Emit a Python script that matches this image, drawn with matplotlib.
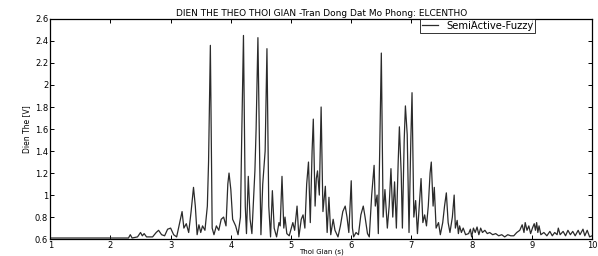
import matplotlib

matplotlib.use("Agg")
import matplotlib.pyplot as plt

# time (s) and voltage (V)
t = [1.0, 2.3, 2.33, 2.36, 2.45, 2.5, 2.53, 2.56, 2.6, 2.7, 2.76, 2.8, 2.85, 2.9, 2.95, 3.0,
     3.05, 3.1, 3.15, 3.19, 3.22, 3.26, 3.3, 3.34, 3.38, 3.41, 3.44, 3.47, 3.5, 3.53, 3.57,
     3.61, 3.63, 3.66, 3.69, 3.72, 3.76, 3.8, 3.84, 3.88, 3.92, 3.95, 3.97, 4.0, 4.03, 4.08,
     4.12, 4.16, 4.18, 4.21, 4.24, 4.26, 4.29, 4.32, 4.35, 4.38, 4.4, 4.42, 4.45, 4.48, 4.5,
     4.53, 4.57, 4.6, 4.63, 4.66, 4.69, 4.72, 4.76, 4.8, 4.82, 4.85, 4.88, 4.9, 4.93, 4.97,
     5.03, 5.06, 5.1, 5.13, 5.17, 5.2, 5.23, 5.26, 5.29, 5.32, 5.35, 5.37, 5.4, 5.42, 5.44,
     5.47, 5.5, 5.53, 5.57, 5.6, 5.63, 5.66, 5.7, 5.73, 5.78, 5.82, 5.86, 5.9, 5.93, 5.96,
     6.0, 6.02, 6.04, 6.08, 6.12, 6.16, 6.2, 6.23, 6.27, 6.3, 6.34, 6.38, 6.4, 6.43, 6.45,
     6.48, 6.5, 6.53, 6.56, 6.6, 6.63, 6.66, 6.69, 6.72, 6.75, 6.78, 6.8, 6.83, 6.85, 6.88,
     6.9, 6.93, 6.96, 6.99, 7.01, 7.04, 7.07, 7.1, 7.13, 7.16, 7.19, 7.22, 7.25, 7.28, 7.31,
     7.33, 7.36, 7.38, 7.41, 7.45, 7.48, 7.52, 7.55, 7.58, 7.61, 7.64, 7.68, 7.71, 7.73,
     7.76, 7.78, 7.8, 7.83, 7.86, 7.9, 7.95, 7.98, 8.0, 8.03, 8.06, 8.09, 8.12, 8.15, 8.18,
     8.22, 8.26, 8.3, 8.35, 8.4, 8.45, 8.5, 8.55, 8.6, 8.65, 8.7, 8.75, 8.8, 8.84, 8.87,
     8.89, 8.92, 8.95, 8.98, 9.01, 9.04, 9.06, 9.08, 9.1, 9.12, 9.15, 9.2, 9.25, 9.3, 9.34,
     9.38, 9.42, 9.44, 9.47, 9.52, 9.56, 9.6, 9.64, 9.68, 9.72, 9.77, 9.8, 9.85, 9.88, 9.92,
     9.96, 10.0]
v = [0.61, 0.61, 0.64, 0.61, 0.62, 0.66, 0.63, 0.65, 0.62, 0.62, 0.66, 0.68, 0.64, 0.63, 0.69, 0.7,
     0.64, 0.62, 0.75, 0.85, 0.7, 0.74, 0.66, 0.85, 1.07, 0.9, 0.64, 0.73, 0.66, 0.72, 0.68,
     0.9, 1.3, 2.36, 0.7, 0.64, 0.72, 0.68, 0.78, 0.8, 0.72, 1.1, 1.2, 1.05, 0.78, 0.72,
     0.64, 0.8, 1.5, 2.45, 0.9, 0.65, 1.17, 0.78, 0.65, 1.0, 1.22, 1.6, 2.43, 1.3, 0.64,
     1.1, 1.4, 2.33, 0.9, 0.62, 1.04, 0.7, 0.62, 0.75, 0.72, 1.17, 0.7, 0.8, 0.65, 0.63,
     0.75, 0.68, 0.9, 0.62, 0.78, 0.82, 0.7, 1.1, 1.3, 0.75, 1.4, 1.69, 0.9, 1.15, 1.22,
     1.0, 1.8, 0.85, 1.08, 0.66, 0.98, 0.64, 0.78, 0.68, 0.62, 0.72, 0.85, 0.9, 0.8, 0.66,
     1.13, 0.7, 0.62, 0.66, 0.64, 0.82, 0.9, 0.8, 0.65, 0.62, 1.0, 1.27, 0.9, 1.0, 0.65,
     1.6, 2.29, 0.8, 1.05, 0.7, 0.9, 1.24, 0.8, 1.12, 0.7, 1.3, 1.62, 1.2, 0.7, 1.5,
     1.81, 1.55, 0.66, 1.5, 1.93, 0.8, 0.95, 0.65, 0.9, 1.15, 0.75, 0.82, 0.72, 0.9, 1.2,
     1.3, 0.9, 1.07, 0.7, 0.75, 0.64, 0.75, 0.9, 1.02, 0.75, 0.66, 0.8, 1.0, 0.7,
     0.77, 0.65, 0.72, 0.66, 0.7, 0.64, 0.65, 0.69, 0.62, 0.7, 0.66, 0.71, 0.64, 0.7, 0.66,
     0.68, 0.65, 0.66, 0.64, 0.65, 0.63, 0.64, 0.62, 0.64, 0.63, 0.63, 0.66, 0.68, 0.73, 0.66,
     0.75, 0.68, 0.72, 0.65, 0.7, 0.74, 0.68, 0.75, 0.66, 0.72, 0.64, 0.66, 0.63, 0.67, 0.63,
     0.66, 0.64, 0.7, 0.64, 0.67, 0.63, 0.68, 0.64, 0.67, 0.63, 0.68, 0.64, 0.69, 0.63, 0.68,
     0.62, 0.63]

x_ticks = [1, 2, 3, 4, 5, 6, 7, 8, 9, 10]
y_ticks = [0.6, 0.8, 1.0, 1.2, 1.4, 1.6, 1.8, 2.0, 2.2, 2.4, 2.6]
y_tick_labels = ["0.6", "0.8", "1", "1.2", "1.4", "1.6", "1.8", "2", "2.2", "2.4", "2.6"]

fig = plt.figure(figsize=(5.98, 2.56), dpi=100)
ax = fig.add_axes([0.084, 0.066, 0.906, 0.86])
ax.plot(t, v, color="#2b2b2b", linewidth=0.9, label="SemiActive-Fuzzy")
ax.set_xlim(1, 10)
ax.set_ylim(0.6, 2.6)
ax.set_xticks(x_ticks)
ax.set_yticks(y_ticks)
ax.set_yticklabels(y_tick_labels)
ax.tick_params(direction="in", length=3, width=0.7, labelsize=6, top=True, right=True, pad=1.5)
for s in ax.spines.values():
    s.set_linewidth(0.9)
ax.set_title("DIEN THE THEO THOI GIAN -Tran Dong Dat Mo Phong: ELCENTHO", fontsize=6.5, pad=2)
ax.set_xlabel("Thoi Gian (s)", fontsize=5, labelpad=-1)
ax.set_ylabel("Dien The [V]", fontsize=5.5, labelpad=3)
leg = ax.legend(loc="upper right", bbox_to_anchor=(0.895, 1.0), fontsize=7.2, frameon=True,
                fancybox=False, edgecolor="black", handlelength=1.6, borderpad=0.2,
                borderaxespad=0.0)
leg.get_frame().set_linewidth(0.7)
fig.savefig("out.png", dpi=100)
